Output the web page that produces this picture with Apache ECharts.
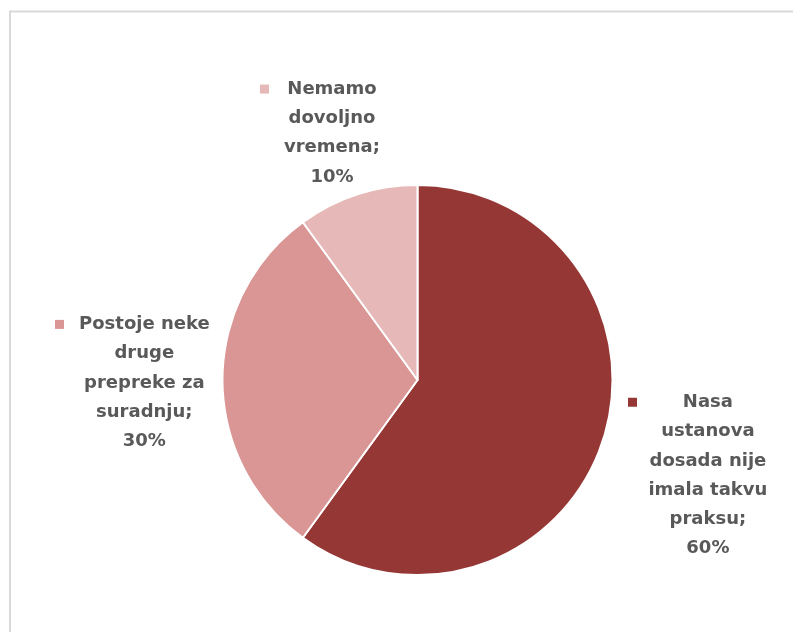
<!DOCTYPE html>
<html>
<head>
<meta charset="utf-8">
<script src="https://cdn.jsdelivr.net/npm/echarts@6/dist/echarts.min.js"></script>
<style>
html,body{margin:0;padding:0;background:#fff;overflow:hidden;}
#chart{width:793px;height:632px;}
</style>
</head>
<body>
<div id="chart"></div>
<script>
const categories = ['Nasa ustanova dosada nije imala takvu praksu', 'Postoje neke druge prepreke za suradnju', 'Nemamo dovoljno vremena'];
const labelLines = [
  ['Nasa', 'ustanova', 'dosada nije', 'imala takvu', 'praksu;'],
  ['Postoje neke', 'druge', 'prepreke za', 'suradnju;'],
  ['Nemamo', 'dovoljno', 'vremena;']
];
const values = [60, 30, 10];
const colors = ['#953735', '#D99694', '#E6B9B8'];

// label block anchor (left edge of marker, vertical middle of block), gap from marker to text
const labelPos = [
  { x: 628, y: 475.5, gap: 20 },
  { x: 55, y: 383, gap: 15 },
  { x: 260, y: 133, gap: 15 }
];

const chart = echarts.init(document.getElementById('chart'), null, { renderer: 'canvas' });

const rich = {
  t: { fontFamily: 'DejaVu Sans', fontWeight: 'bold', fontSize: 18, color: '#595959', lineHeight: 29.3, align: 'center' }
};
colors.forEach((c, i) => {
  rich['m' + i] = { width: 9, height: 9, backgroundColor: c, align: 'left', verticalAlign: 'middle' };
  rich['g' + i] = { width: labelPos[i].gap, height: 9, align: 'left' };
  rich['s' + i] = { width: labelPos[i].gap + 9, height: 9, lineHeight: 29.3, align: 'left' };
});

const data = categories.map((name, i) => ({
  name: name,
  value: values[i],
  itemStyle: { color: colors[i] }
}));

chart.setOption({
  animation: false,
  backgroundColor: '#ffffff',
  graphic: [{
    type: 'polyline',
    shape: { points: [[10, 700], [10, 11.5], [900, 11.5]] },
    style: { fill: null, stroke: '#d9d9d9', lineWidth: 2 },
    silent: true
  }],
  series: [{
    type: 'pie',
    center: [417.5, 380],
    radius: [0, 195],
    startAngle: 90,
    clockwise: true,
    itemStyle: { borderColor: '#ffffff', borderWidth: 2 },
    labelLine: { show: false },
    label: {
      show: true,
      position: 'outside',
      overflow: 'none',
      rich: rich,
      formatter: function (p) {
        const i = p.dataIndex;
        const lines = labelLines[i].slice();
        lines.push(p.value + '%');
        return lines.map((l, k) => (k === 0 ? '{m' + i + '|}{g' + i + '|}' : '{s' + i + '|}') + '{t|' + l + '}').join('\n');
      }
    },
    labelLayout: function (params) {
      const p = labelPos[params.dataIndex];
      return { x: p.x, y: p.y, align: 'left', verticalAlign: 'middle' };
    },
    data: data
  }]
});
</script>
</body>
</html>
